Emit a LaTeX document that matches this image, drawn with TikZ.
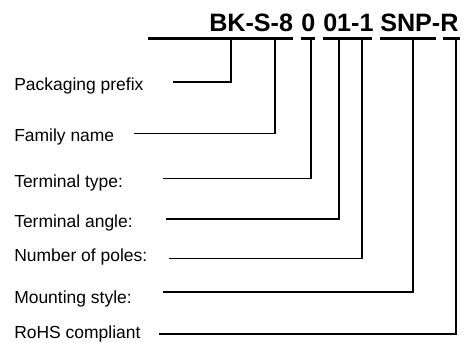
\documentclass[tikz,border=0pt]{standalone}
\usepackage{fontspec}
\setmainfont{Liberation Sans}
\begin{document}
\begin{tikzpicture}[x=0.75pt,y=-0.75pt,
		code/.style={anchor=base west,inner sep=0pt,font=\fontsize{18.85}{20}\selectfont\bfseries},
		label/.style={anchor=base west,inner sep=0pt,font=\fontsize{13.1}{15}\selectfont},
		underline/.style={line width=2pt},
		leader/.style={line width=0.8pt}]
		\useasboundingbox (0,0) rectangle (472,343);
		
		% part number
		\node[code] (prefix) at (209,31) {BK-S-8};
		\node[code] (ttype) at (301,31) {0};
		\node[code] (tangle) at (323,31) {01-1};
		\node[code] (mount) at (380,31) {SNP-R};
		
		\draw[underline] (148,38.5) -- (293,38.5);
		\draw[underline] (301,38.5) -- (315,38.5);
		\draw[underline] (323,38.5) -- (372,38.5);
		\draw[underline] (380,38.5) -- (436,38.5);
		\draw[underline] (443,38.5) -- (460,38.5);
		
		% descriptions
		\node[label] (l1) at (14,90.7) {Packaging prefix};
		\node[label] (l2) at (14,141.7) {Family name};
		\node[label] (l3) at (14,187.7) {Terminal type:};
		\node[label] (l4) at (14,227.7) {Terminal angle:};
		\node[label] (l5) at (14,261) {Number of poles:};
		\node[label] (l6) at (14,303.7) {Mounting style:};
		\node[label] (l7) at (14,338.5) {RoHS compliant};
		
		\coordinate (t1) at (231,39.5);
		\coordinate (t2) at (275,39.5);
		\coordinate (t3) at (311,39.5);
		\coordinate (t4) at (339,39.5);
		\coordinate (t5) at (362,39.5);
		\coordinate (t6) at (413,39.5);
		\coordinate (t7) at (456,39.5);
		
		\coordinate (e1) at (173,82);
		\coordinate (e2) at (134,133.5);
		\coordinate (e3) at (163,178.3);
		\coordinate (e4) at (166,219);
		\coordinate (e5) at (169,258.5);
		\coordinate (e6) at (163,292);
		\coordinate (e7) at (159,334);
		
		\draw[leader] (t1) |- (e1);
		\draw[leader] (t2) |- (e2);
		\draw[leader] (t3) |- (e3);
		\draw[leader] (t4) |- (e4);
		\draw[leader] (t5) |- (e5);
		\draw[leader] (t6) |- (e6);
		\draw[leader] (t7) |- (e7);
	\end{tikzpicture}
\end{document}
